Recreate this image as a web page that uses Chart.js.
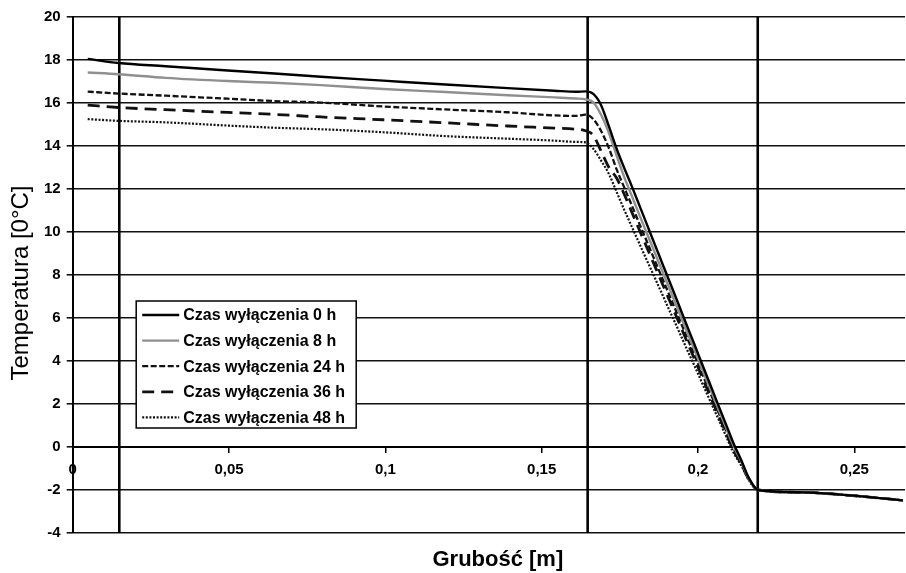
<!DOCTYPE html>
<html>
<head>
<meta charset="utf-8">
<script src="https://cdn.jsdelivr.net/npm/chart.js@4.4.0/dist/chart.umd.min.js"></script>
<style>
  html, body { margin: 0; padding: 0; background: #fff; }
  canvas { display: block; }
</style>
</head>
<body>
<canvas id="chart" width="906" height="573"></canvas>
<script>
// thickness positions [m]
const thickness = [0.0048, 0.0147, 0.0297, 0.0496, 0.0645, 0.0794, 0.0993, 0.1192, 0.1391, 0.1541,
    0.161, 0.164, 0.1665, 0.169, 0.1715, 0.174, 0.1765, 0.1789, 0.1814, 0.1839,
    0.1864, 0.1889, 0.1914, 0.1939, 0.1964, 0.1988, 0.2013, 0.2038, 0.2063, 0.2088,
    0.2113, 0.2138, 0.2163, 0.2192, 0.2337, 0.2486, 0.2655];

const temp0h = [18.05, 17.86, 17.71, 17.51, 17.37, 17.22, 17.04, 16.86, 16.69, 16.57,
    16.52, 16.54, 16.42, 15.9, 14.91, 13.86, 12.94, 12.1, 11.18, 10.26,
    9.34, 8.42, 7.51, 6.59, 5.66, 4.79, 3.86, 2.94, 2.02, 1.11,
    0.19, -0.6, -1.45, -2.0, -2.11, -2.25, -2.48];
const temp8h = [17.42, 17.34, 17.17, 17.02, 16.94, 16.83, 16.65, 16.51, 16.36, 16.26,
    16.21, 16.17, 16.03, 15.45, 14.6, 13.54, 12.52, 11.65, 10.74, 9.85,
    8.96, 8.07, 7.18, 6.29, 5.38, 4.54, 3.63, 2.74, 1.85, 0.96,
    0.07, -0.65, -1.48, -2.0, -2.11, -2.25, -2.48];
const temp24h = [16.53, 16.44, 16.34, 16.2, 16.09, 16.02, 15.84, 15.7, 15.57, 15.42,
    15.4, 15.46, 15.25, 14.7, 13.9, 12.9, 12.04, 11.21, 10.33, 9.47,
    8.6, 7.73, 6.87, 6.0, 5.12, 4.3, 3.42, 2.56, 1.69, 0.82,
    -0.04, -0.72, -1.5, -2.0, -2.11, -2.25, -2.48];
const temp36h = [15.9, 15.79, 15.69, 15.56, 15.47, 15.35, 15.22, 15.08, 14.93, 14.83,
    14.78, 14.71, 14.5, 13.76, 13.0, 12.5, 11.72, 10.9, 10.04, 9.19,
    8.34, 7.49, 6.64, 5.79, 4.93, 4.12, 3.26, 2.41, 1.56, 0.71,
    -0.14, -0.78, -1.52, -2.0, -2.11, -2.25, -2.48];
const temp48h = [15.25, 15.17, 15.1, 14.95, 14.85, 14.78, 14.64, 14.46, 14.34, 14.25,
    14.19, 14.17, 13.87, 13.32, 12.7, 11.85, 11.0, 10.22, 9.41, 8.6,
    7.8, 6.99, 6.18, 5.38, 4.56, 3.8, 2.98, 2.17, 1.37, 0.56,
    -0.25, -0.85, -1.55, -2.0, -2.11, -2.25, -2.48];

const seriesLabels = ['Czas wyłączenia 0 h', 'Czas wyłączenia 8 h', 'Czas wyłączenia 24 h',
    'Czas wyłączenia 36 h', 'Czas wyłączenia 48 h'];

// layer boundaries (thick vertical lines)
const layerBoundaries = [0.0149, 0.1647, 0.2191];

const yTickValues = [-4, -2, 0, 2, 4, 6, 8, 10, 12, 14, 16, 18, 20];
const xTickValues = [0, 0.05, 0.1, 0.15, 0.2, 0.25];
const xTickLabels = ['0', '0,05', '0,1', '0,15', '0,2', '0,25'];

const FONT = "'Liberation Sans', Arial, sans-serif";

const seriesValues = [temp0h, temp8h, temp24h, temp36h, temp48h];
const seriesStyles = [
    { color: '#000', width: 2.4, dash: [] },
    { color: '#8f8f8f', width: 2.4, dash: [] },
    { color: '#111', width: 2.3, dash: [6, 2.5] },
    { color: '#111', width: 2.8, dash: [12, 7] },
    { color: '#111', width: 2.2, dash: [2, 1.6] }
];

const datasets = seriesValues.map((vals, i) => ({
    label: seriesLabels[i],
    data: thickness.map((x, j) => ({ x: x, y: vals[j] })),
    borderColor: seriesStyles[i].color,
    borderWidth: seriesStyles[i].width,
    borderDash: seriesStyles[i].dash,
    pointRadius: 0,
    fill: false,
    cubicInterpolationMode: 'monotone'
}));

const layerLinesPlugin = {
    id: 'layerLines',
    beforeDatasetsDraw(chart) {
        const { ctx, chartArea, scales } = chart;
        ctx.save();
        ctx.strokeStyle = '#000';
        ctx.lineWidth = 2.6;
        layerBoundaries.forEach(b => {
            const px = scales.x.getPixelForValue(b);
            ctx.beginPath();
            ctx.moveTo(px, chartArea.top);
            ctx.lineTo(px, chartArea.bottom);
            ctx.stroke();
        });
        ctx.restore();
    }
};

const insideLegendPlugin = {
    id: 'insideLegend',
    afterDraw(chart) {
        const { ctx, chartArea } = chart;
        const left = chartArea.left + 63.5;
        const top = 301;
        const w = 220, h = 127, rowH = 25.6;
        ctx.save();
        ctx.fillStyle = '#fff';
        ctx.fillRect(left, top, w, h);
        ctx.strokeStyle = '#000';
        ctx.lineWidth = 1.5;
        ctx.strokeRect(left, top, w, h);
        ctx.font = 'bold 16px ' + FONT;
        ctx.textBaseline = 'middle';
        ctx.textAlign = 'left';
        chart.data.datasets.forEach((ds, i) => {
            const y = top + 14 + i * rowH;
            ctx.beginPath();
            ctx.strokeStyle = ds.borderColor;
            ctx.lineWidth = ds.borderWidth;
            ctx.setLineDash(ds.borderDash);
            ctx.moveTo(left + 6, y);
            ctx.lineTo(left + 43, y);
            ctx.stroke();
            ctx.setLineDash([]);
            ctx.fillStyle = '#000';
            ctx.fillText(ds.label, left + 47, y + 1);
        });
        ctx.restore();
    }
};

const axisTitlesPlugin = {
    id: 'axisTitles',
    afterDraw(chart) {
        const { ctx, chartArea } = chart;
        ctx.save();
        ctx.fillStyle = '#000';
        ctx.textAlign = 'center';
        ctx.textBaseline = 'middle';
        ctx.font = 'bold 22px ' + FONT;
        ctx.fillText('Grubość [m]', (chartArea.left + chartArea.right) / 2 + 9, 560);
        ctx.translate(21, (chartArea.top + chartArea.bottom) / 2 + 8);
        ctx.rotate(-Math.PI / 2);
        ctx.font = '24px ' + FONT;
        ctx.fillText('Temperatura [0°C]', 0, 0);
        ctx.restore();
    }
};

new Chart(document.getElementById('chart').getContext('2d'), {
    type: 'line',
    data: { datasets: datasets },
    options: {
        responsive: false,
        animation: false,
        layout: { padding: { top: 17, right: 1, bottom: 40, left: 0 } },
        plugins: {
            legend: { display: false },
            tooltip: { enabled: false }
        },
        scales: {
            x: {
                type: 'linear',
                position: { y: 0 },
                min: 0,
                max: 0.2662,
                afterBuildTicks: s => { s.ticks = xTickValues.map(v => ({ value: v })); },
                grid: { drawOnChartArea: false, color: '#000', lineWidth: 1.5, tickLength: 5 },
                border: { color: '#000', width: 2 },
                ticks: {
                    color: '#000',
                    font: { family: FONT, size: 15, weight: 'bold' },
                    padding: 9,
                    maxRotation: 0,
                    autoSkip: false,
                    callback: v => xTickLabels[xTickValues.indexOf(v)]
                }
            },
            y: {
                type: 'linear',
                position: 'left',
                min: -4,
                max: 20,
                afterBuildTicks: s => { s.ticks = yTickValues.map(v => ({ value: v })); },
                afterFit: s => { s.width = 72.7; },
                grid: { color: '#111', lineWidth: 1.6, tickLength: 6 },
                border: { color: '#000', width: 2 },
                ticks: {
                    color: '#000',
                    font: { family: FONT, size: 15, weight: 'bold' },
                    padding: 6,
                    callback: v => String(v)
                }
            }
        }
    },
    plugins: [layerLinesPlugin, insideLegendPlugin, axisTitlesPlugin]
});
</script>
</body>
</html>
